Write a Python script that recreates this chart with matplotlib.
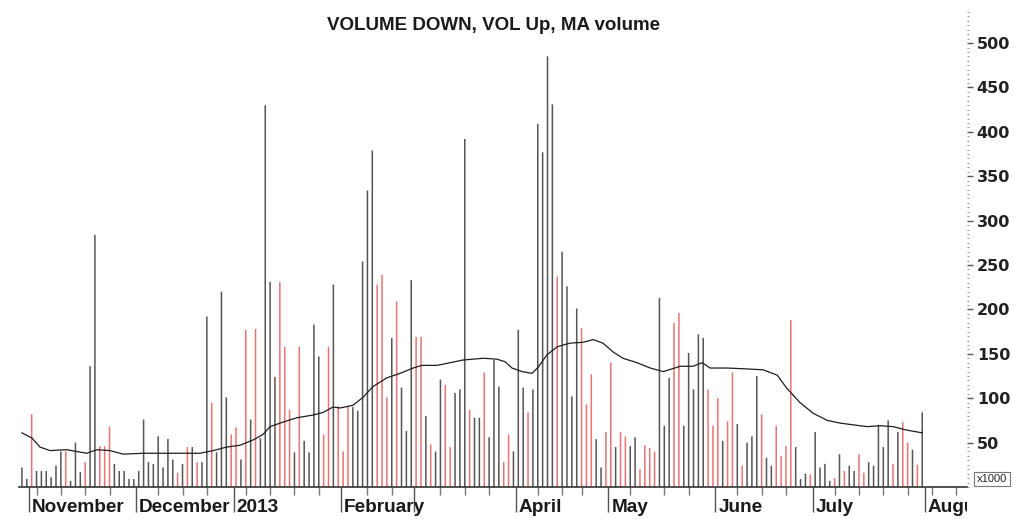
import numpy as np
import matplotlib
matplotlib.use("Agg")
import matplotlib.pyplot as plt
from matplotlib.ticker import MultipleLocator, FixedLocator
from matplotlib.transforms import Bbox, TransformedBbox

plt.rcParams['font.family'] = ['Liberation Sans', 'DejaVu Sans']

# ---- data (volume in thousands, one bar per trading day) ----
volume = [
    22, 9, 82, 18, 18, 18, 11, 24, 40, 40,
    7, 50, 17, 28, 136, 284, 46, 46, 68, 26,
    18, 18, 9, 9, 18, 76,
    28, 26, 57, 22, 54, 31, 16, 26, 45, 45, 28, 28,
    192, 95, 39, 220, 101, 59, 67, 31, 177, 76,
    178, 55, 430, 231, 124,
    231, 158, 87, 39, 158, 52, 39, 183, 147, 59,
    158, 228,
    91, 40, 91, 90, 86, 254, 334, 379, 228, 239,
    101, 168, 209, 112, 63,
    233, 169, 169, 80, 48, 40, 121, 115, 45, 106,
    110, 392, 87, 78, 78, 129, 56, 143, 113, 28,
    59, 40, 177, 112, 84, 110,
    409, 377, 485, 431, 237, 265, 226, 102, 201, 179,
    93, 127, 54, 22, 62, 140, 45, 62, 57, 46,
    56, 20, 47, 44, 40, 213, 69, 123,
    185, 196, 69, 151, 110, 172, 168, 110, 69, 100,
    52, 74, 129, 71, 24, 50, 57, 125, 82, 33,
    24, 69, 35, 46, 188, 45, 9,
    15, 14, 62, 22, 26, 7, 10, 37, 18, 24,
    18, 37, 16, 28, 24, 70, 45, 75, 26, 62,
    73, 50, 42, 25, 84,
]
# 'u' = volume up (red), 'd' = volume down (grey)
direction = "".join([
    "dduddddddu", "dddudduuud", "dddddd",
    "ddddddududud",
    "duddduudud", "udddd",
    "uuududdddu", "ud",
    "uuuddddduu", "ududd",
    "duududduud", "dduddudddu", "udddud",
    "dddduddddu", "uudduuduud", "duuuuddd",
    "uuddddduuu", "duududddud", "duuuudd",
    "duddddudud", "duudddddud", "uudud",
])

# moving average of volume (bar index, value)
ma_x = [0.0, 2.1, 3.7, 5.8, 9.2, 13.3, 15.4, 18.1, 20.8, 24.9, 29.8, 33.9,
        36.6, 39.3, 42.1, 44.8, 47.5, 49.5, 51.0, 53.6, 56.5, 59.8, 61.9,
        63.9, 65.4, 68.0, 70.1, 72.1, 75.0, 77.7, 80.4, 82.2, 85.3, 88.0,
        90.6, 94.8, 97.6, 99.3, 100.7, 102.8, 104.8, 106.1, 107.9, 110.0,
        112.6, 115.3, 117.4, 119.4, 121.5, 123.5, 126.4, 129.1, 131.8,
        135.3, 137.9, 139.8, 141.4, 144.9, 149.0, 152.3, 155.2, 157.2,
        159.9, 162.6, 165.5, 168.1, 170.8, 173.7, 176.4, 179.0, 181.9, 185.0]
ma_v = [61, 55, 45, 41, 42, 38, 42, 41, 37, 38, 38, 38,
        38, 41, 45, 47, 53, 59, 68, 73, 78, 81, 84,
        90, 89, 92, 101, 113, 123, 128, 134, 137, 137, 140,
        143, 145, 144, 141, 134, 130, 128, 135, 149, 158,
        162, 163, 166, 162, 152, 145, 140, 134, 130,
        136, 136, 140, 134, 134, 133, 132, 126, 111,
        95, 83, 75, 72, 70, 68, 69, 68, 64, 61]

# first trading day index of each month and its label
month_starts = [2, 24, 44, 66, 81, 102, 121, 143, 163, 186]
month_labels = ["November", "December", "2013", "February", "", "April",
                "May", "June", "July", "August"]
week_ticks = [3, 8, 13, 18, 28, 33, 38, 46, 51, 56, 61, 71, 76, 86, 91, 96,
              106, 111, 115, 125, 132, 137, 147, 152, 157, 167, 172, 177,
              182, 187, 192]

title = "VOLUME DOWN, VOL Up, MA volume"

# ---- drawing ----
UP = "#e87474"
DOWN = "#555555"

fig = plt.figure(figsize=(10.14, 5.19), dpi=100)
W, H = 1014, 519
ax = fig.add_axes([19 / W, 1 - 487 / H, (967 - 19) / W, (487 - 12) / H])

x = np.arange(len(volume))
colors = [UP if d == "u" else DOWN for d in direction]
ax.vlines(x, 0, volume, colors=colors, linewidth=1.1, snap=False)
ax.plot(ma_x, ma_v, color="#1e1e1e", lw=0.9)

ax.set_xlim(-0.6, 194.2)
ax.set_ylim(0, 535)

for s in ("top", "left", "right"):
    ax.spines[s].set_visible(False)
ax.spines["bottom"].set_color("#333333")
ax.spines["bottom"].set_linewidth(1.2)

# y axis on the right
ax.yaxis.tick_right()
ax.set_yticks(np.arange(50, 501, 50))
ax.yaxis.set_minor_locator(MultipleLocator(5))
ax.tick_params(axis="y", which="major", length=4, width=1.0, color="#555555",
               pad=3)
ax.tick_params(axis="y", which="minor", length=1.5, width=0.8, color="#999999")
for lab in ax.get_yticklabels():
    lab.set_fontweight("bold")
    lab.set_fontfamily("DejaVu Sans")
    lab.set_fontsize(11.5)
    lab.set_color("#222222")

# x axis: month boundary ticks (long) and weekly ticks (short)
month_ticks = [m - 0.5 for m in month_starts]
ax.xaxis.set_major_locator(FixedLocator(month_ticks))
ax.xaxis.set_minor_locator(FixedLocator(week_ticks))
ax.set_xticklabels([])
ax.tick_params(axis="x", which="major", length=18, width=1.0, color="#555555")
ax.tick_params(axis="x", which="minor", length=6, width=1.0, color="#777777")

clip = TransformedBbox(Bbox([[0, -0.2], [1, 1.0]]), ax.transAxes)
for pos, lab in zip(month_ticks, month_labels):
    if not lab:
        continue
    t = ax.text(pos + 0.6, -0.053, lab, transform=ax.get_xaxis_transform(),
                ha="left", va="baseline", fontsize=13.7, fontweight="bold",
                color="#1a1a1a")
    t.set_clip_box(clip)
    t.set_clip_on(True)

fig.text(493.5 / W, 1 - 25 / H, title, ha="center", va="center",
         fontsize=13.5, fontweight="bold", color="#1a1a1a")

fig.text(992 / W, 1 - 479 / H, "x1000", ha="center", va="center",
         fontsize=8, color="#222222",
         bbox=dict(boxstyle="square,pad=0.22", fc="white", ec="#777777", lw=0.8))

fig.savefig("out.png", dpi=100)
